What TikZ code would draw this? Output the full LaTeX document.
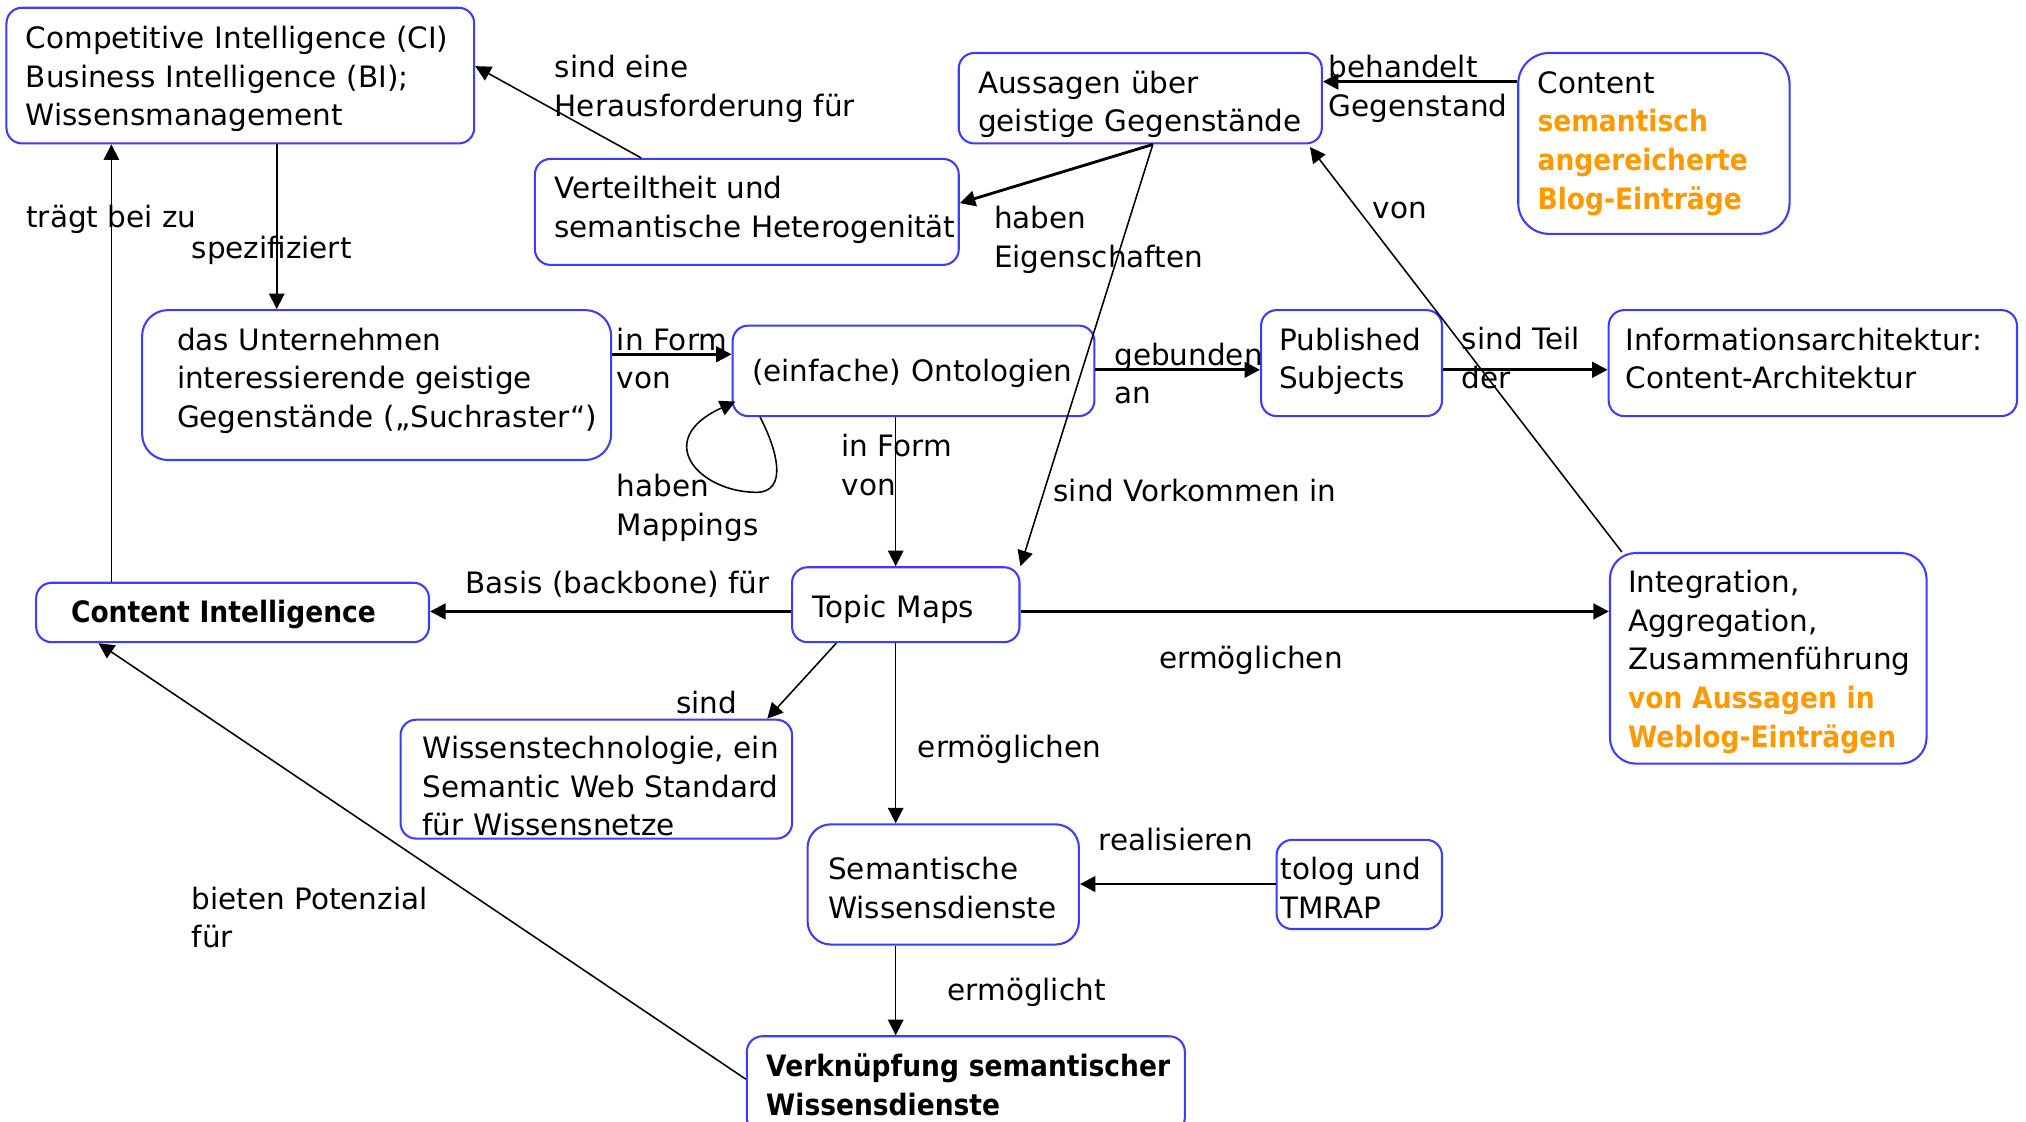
\documentclass[tikz,border=0pt]{standalone}
\usepackage{fontspec}
\setmainfont{DejaVu Sans}[BoldFeatures={FakeStretch=0.9}]
\usetikzlibrary{arrows.meta,calc}
\definecolor{boxblue}{RGB}{60,60,250}
\definecolor{orng}{RGB}{255,153,0}
\newcommand\orhl[1]{\textcolor{orng}{\textbf{#1}}}
\newcommand\mlines[2][0pt]{\raisebox{#1}[\height][\depth]{\begin{tabular}{@{}l@{}}#2\end{tabular}}}
\begin{document}
\begin{tikzpicture}[x=0.5pt,y=-0.5pt,
  box/.style={draw=boxblue, line width=0.8pt, rounded corners=6pt, align=left, inner ysep=0pt, font=\fontsize{11.4}{15}\selectfont},
  lbl/.style={align=left, anchor=west, inner sep=0pt, font=\fontsize{11.4}{15}\selectfont},
  arr/.style={-{Triangle[length=6pt,width=6pt]}, line width=0.6pt},
  arrb/.style={-{Triangle[length=6pt,width=6pt]}, line width=1.1pt}]
\useasboundingbox (0,0) rectangle (1568,868);

% boxes
\node[box, text width=166pt, inner xsep=7.5pt, minimum height=52.5pt] (ci) at (186,58.5) {\mlines[-1.5pt]{Competitive Intelligence (CI)\\Business Intelligence (BI);\\Wissensmanagement}};
\node[box, text width=125.5pt, inner xsep=7.5pt, minimum height=35pt] (aus) at (882.5,76) {\mlines[-2.5pt]{Aussagen über\\geistige Gegenstände}};
\node[box, rounded corners=12pt, text width=90pt, inner xsep=7.5pt, minimum height=70pt] (cont) at (1280,111) {\mlines{Content\\\orhl{semantisch}\\\orhl{angereicherte}\\\orhl{Blog-Einträge}}};
\node[box, text width=149pt, inner xsep=7.5pt, minimum height=41pt] (vert) at (578,164) {\mlines[0.5pt]{Verteiltheit und\\semantische Heterogenität}};
\node[box, rounded corners=10pt, text width=154.5pt, inner xsep=13.5pt, minimum height=58pt] (unt) at (291.5,298) {\mlines[1.5pt]{das Unternehmen\\interessierende geistige\\Gegenstände („Suchraster“)}};
\node[box, text width=125pt, inner xsep=7.5pt, minimum height=35pt] (ont) at (707,287) {\mlines[-1pt]{(einfache) Ontologien}};
\node[box, text width=56pt, inner xsep=7pt, minimum height=41pt] (pub) at (1046,281) {\mlines[0.5pt]{Published\\Subjects}};
\node[box, text width=145pt, inner xsep=6.5pt, minimum height=41pt] (info) at (1403,281) {\mlines[0.5pt]{Informationsarchitektur:\\Content-Architektur}};
\node[box, text width=125pt, inner xsep=13.5pt, minimum height=23pt] (cint) at (180,474) {\mlines[-1pt]{\textbf{Content Intelligence}}};
\node[box, text width=72pt, inner xsep=8pt, minimum height=29pt] (tm) at (701,468) {\mlines[-2pt]{Topic Maps}};
\node[box, rounded corners=10pt, text width=108.5pt, inner xsep=7pt, minimum height=81.5pt] (integ) at (1368.5,509.5) {\mlines[-1.5pt]{Integration,\\Aggregation,\\Zusammenführung\\\orhl{von Aussagen in}\\\orhl{Weblog-Einträgen}}};
\node[box, text width=134.5pt, inner xsep=8.5pt, minimum height=46pt] (wt) at (461.5,603) {\mlines[-4pt]{Wissenstechnologie, ein\\Semantic Web Standard\\für Wissensnetze}};
\node[box, rounded corners=9pt, text width=89pt, inner xsep=8pt, minimum height=46.5pt] (sem) at (730,684.5) {\mlines[-2.75pt]{Semantische\\Wissensdienste}};
\node[box, text width=61pt, inner xsep=1.5pt, minimum height=34.5pt] (tol) at (1052,684.5) {\mlines[-2.75pt]{tolog und\\TMRAP}};
\node[box, text width=154.5pt, inner xsep=7.5pt, minimum height=37.5pt] (verk) at (747.5,839.5) {\mlines[-1.25pt]{\textbf{Verknüpfung semantischer}\\\textbf{Wissensdienste}}};

% labels
\node[lbl] (l1) at (429,69) {sind eine\\Herausforderung für};
\node[lbl] (l2) at (1028,69) {behandelt\\Gegenstand};
\node[lbl] (l3) at (20,170) {trägt bei zu};
\node[lbl] (l4) at (148,194) {spezifiziert};
\node[lbl] (l5) at (769,185.5) {haben\\Eigenschaften};
\node[lbl] (l6) at (1062,163) {von};
\node[lbl] (l7) at (477,277.5) {in Form\\von};
\node[lbl] (l8) at (862,289) {gebunden\\an};
\node[lbl] (l9) at (1131,277) {sind Teil\\der};
\node[lbl] (l10) at (477,393) {haben\\Mappings};
\node[lbl] (l11) at (651,360) {in Form\\von};
\node[lbl] (l12) at (815,380) {sind Vorkommen in};
\node[lbl] (l13) at (360,452) {Basis (backbone) für};
\node[lbl] (l14) at (897,511) {ermöglichen};
\node[lbl] (l15) at (523,544) {sind};
\node[lbl] (l16) at (710,580) {ermöglichen};
\node[lbl] (l17) at (850,650) {realisieren};
\node[lbl] (l18) at (148,710) {bieten Potenzial\\für};
\node[lbl] (l19) at (733,768) {ermöglicht};

% connectors
\draw[arr] ($(ci.south west)+(210,0)$) -- ($(unt.north west)+(105,0)$);
\draw[arr] ($(cint.north west)+(59,0)$) -- ($(ci.south west)+(82,0)$);
\draw[arr] ($(vert.north west)+(83,0)$) -- ($(ci.north east)+(0,46)$);
\draw[arrb] ($(aus.south west)+(151,0)$) -- ($(vert.north east)+(0,35)$);
\draw[arrb] ($(cont.north west)+(0,23)$) -- ($(aus.north east)+(0,23)$);
\draw[arr] ($(integ.north west)+(10,0)$) -- ($(aus.south east)+(-10,2)$);
\draw[arr] ($(aus.south west)+(151,0)$) -- (tm.north east);
\draw[arrb] ($(unt.north east)+(0,35)$) -- ($(ont.north west)+(0,23)$);
\draw[arr] ($(ont.south west)+(22,0)$) .. controls (600,345) and (612,382) .. (584,381) .. controls (540,380) and (505,340) .. ($(ont.south west)+(3,-12)$);
\draw[arr] ($(ont.south west)+(127,0)$) -- ($(tm.north west)+(81,0)$);
\draw[arrb] ($(ont.north east)+(0,35)$) -- ($(pub.north west)+(0,47)$);
\draw[arrb] ($(pub.north east)+(0,47)$) -- ($(info.north west)+(0,47)$);
\draw[arrb] ($(tm.north west)+(0,35)$) -- ($(cint.north east)+(0,23)$);
\draw[arrb] ($(tm.north east)+(0,35)$) -- ($(integ.north west)+(0,46)$);
\draw[arr] ($(tm.south west)+(35,0)$) -- ($(wt.north east)+(-20,0)$);
\draw[arr] ($(tm.south west)+(81,0)$) -- ($(sem.north west)+(69,0)$);
\draw[arrb] ($(tol.north west)+(0,35)$) -- ($(sem.north east)+(0,47)$);
\draw[arr] ($(sem.south west)+(69,0)$) -- ($(verk.north west)+(116,0)$);
\draw[arr] ($(verk.north west)+(0,34)$) -- ($(cint.south west)+(49,0)$);
\end{tikzpicture}
\end{document}
